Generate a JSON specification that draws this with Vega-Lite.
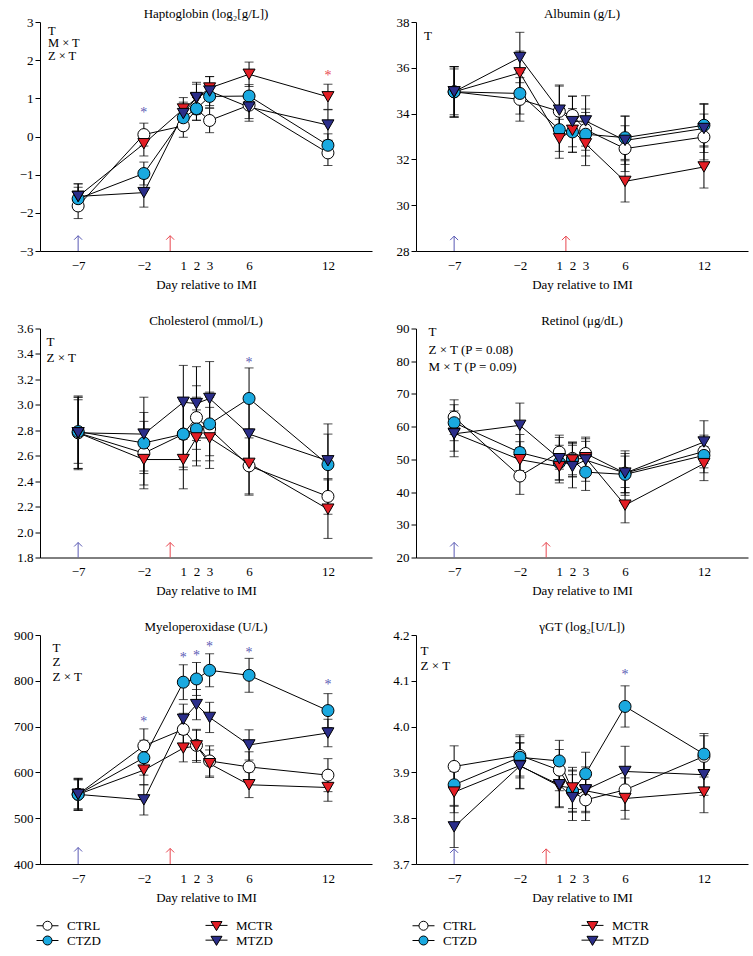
{
  "$schema": "https://vega.github.io/schema/vega-lite/v6.json",
  "padding": {"left": 10, "top": 8, "right": 5, "bottom": 5},
  "background": "white",
  "columns": 2,
  "spacing": {"row": 23.5, "column": 14},
  "resolve": {"scale": {"fill": "independent", "shape": "independent"}},
  "datasets": {
    "series": [
      {"p":"HP","g":"CTRL","d":-7,"m":-1.82,"se":0.33},{"p":"HP","g":"CTRL","d":-2,"m":0.05,"se":0.3},{"p":"HP","g":"CTRL","d":1,"m":0.28,"se":0.3},{"p":"HP","g":"CTRL","d":2,"m":0.72,"se":0.3},{"p":"HP","g":"CTRL","d":3,"m":0.42,"se":0.32},{"p":"HP","g":"CTRL","d":6,"m":0.82,"se":0.35},{"p":"HP","g":"CTRL","d":12,"m":-0.43,"se":0.33},
      {"p":"HP","g":"CTZD","d":-7,"m":-1.63,"se":0.3},{"p":"HP","g":"CTZD","d":-2,"m":-0.97,"se":0.3},{"p":"HP","g":"CTZD","d":1,"m":0.49,"se":0.3},{"p":"HP","g":"CTZD","d":2,"m":0.73,"se":0.3},{"p":"HP","g":"CTZD","d":3,"m":1.05,"se":0.3},{"p":"HP","g":"CTZD","d":6,"m":1.06,"se":0.3},{"p":"HP","g":"CTZD","d":12,"m":-0.23,"se":0.3},
      {"p":"HP","g":"MCTR","d":-7,"m":-1.57,"se":0.33},{"p":"HP","g":"MCTR","d":-2,"m":-0.19,"se":0.32},{"p":"HP","g":"MCTR","d":1,"m":0.72,"se":0.3},{"p":"HP","g":"MCTR","d":2,"m":1.0,"se":0.42},{"p":"HP","g":"MCTR","d":3,"m":1.27,"se":0.3},{"p":"HP","g":"MCTR","d":6,"m":1.63,"se":0.32},{"p":"HP","g":"MCTR","d":12,"m":1.04,"se":0.33},
      {"p":"HP","g":"MTZD","d":-7,"m":-1.57,"se":0.33},{"p":"HP","g":"MTZD","d":-2,"m":-1.47,"se":0.38},{"p":"HP","g":"MTZD","d":1,"m":0.6,"se":0.3},{"p":"HP","g":"MTZD","d":2,"m":1.02,"se":0.35},{"p":"HP","g":"MTZD","d":3,"m":1.19,"se":0.38},{"p":"HP","g":"MTZD","d":6,"m":0.77,"se":0.37},{"p":"HP","g":"MTZD","d":12,"m":0.3,"se":0.4},

      {"p":"AL","g":"CTRL","d":-7,"m":34.95,"se":1.0},{"p":"AL","g":"CTRL","d":-2,"m":34.62,"se":0.95},{"p":"AL","g":"CTRL","d":1,"m":34.1,"se":1.1},{"p":"AL","g":"CTRL","d":2,"m":33.92,"se":0.85},{"p":"AL","g":"CTRL","d":3,"m":33.3,"se":0.9},{"p":"AL","g":"CTRL","d":6,"m":32.47,"se":1.0},{"p":"AL","g":"CTRL","d":12,"m":32.98,"se":1.0},
      {"p":"AL","g":"CTZD","d":-7,"m":34.95,"se":1.1},{"p":"AL","g":"CTZD","d":-2,"m":34.88,"se":0.9},{"p":"AL","g":"CTZD","d":1,"m":33.3,"se":0.95},{"p":"AL","g":"CTZD","d":2,"m":33.2,"se":0.9},{"p":"AL","g":"CTZD","d":3,"m":33.1,"se":0.95},{"p":"AL","g":"CTZD","d":6,"m":32.95,"se":0.95},{"p":"AL","g":"CTZD","d":12,"m":33.49,"se":0.95},
      {"p":"AL","g":"MCTR","d":-7,"m":34.95,"se":1.1},{"p":"AL","g":"MCTR","d":-2,"m":35.78,"se":0.95},{"p":"AL","g":"MCTR","d":1,"m":32.9,"se":0.85},{"p":"AL","g":"MCTR","d":2,"m":33.27,"se":0.95},{"p":"AL","g":"MCTR","d":3,"m":32.68,"se":0.95},{"p":"AL","g":"MCTR","d":6,"m":31.04,"se":0.9},{"p":"AL","g":"MCTR","d":12,"m":31.67,"se":0.92},
      {"p":"AL","g":"MTZD","d":-7,"m":34.95,"se":1.1},{"p":"AL","g":"MTZD","d":-2,"m":36.45,"se":1.1},{"p":"AL","g":"MTZD","d":1,"m":34.15,"se":1.1},{"p":"AL","g":"MTZD","d":2,"m":33.65,"se":1.1},{"p":"AL","g":"MTZD","d":3,"m":33.68,"se":1.1},{"p":"AL","g":"MTZD","d":6,"m":32.83,"se":1.05},{"p":"AL","g":"MTZD","d":12,"m":33.35,"se":1.05},

      {"p":"CH","g":"CTRL","d":-7,"m":2.78,"se":0.28},{"p":"CH","g":"CTRL","d":-2,"m":2.62,"se":0.25},{"p":"CH","g":"CTRL","d":1,"m":2.77,"se":0.28},{"p":"CH","g":"CTRL","d":2,"m":2.9,"se":0.25},{"p":"CH","g":"CTRL","d":3,"m":2.81,"se":0.25},{"p":"CH","g":"CTRL","d":6,"m":2.52,"se":0.22},{"p":"CH","g":"CTRL","d":12,"m":2.28,"se":0.14},
      {"p":"CH","g":"CTZD","d":-7,"m":2.79,"se":0.25},{"p":"CH","g":"CTZD","d":-2,"m":2.7,"se":0.24},{"p":"CH","g":"CTZD","d":1,"m":2.77,"se":0.26},{"p":"CH","g":"CTZD","d":2,"m":2.81,"se":0.25},{"p":"CH","g":"CTZD","d":3,"m":2.85,"se":0.25},{"p":"CH","g":"CTZD","d":6,"m":3.05,"se":0.24},{"p":"CH","g":"CTZD","d":12,"m":2.53,"se":0.24},
      {"p":"CH","g":"MCTR","d":-7,"m":2.78,"se":0.28},{"p":"CH","g":"MCTR","d":-2,"m":2.57,"se":0.23},{"p":"CH","g":"MCTR","d":1,"m":2.57,"se":0.23},{"p":"CH","g":"MCTR","d":2,"m":2.74,"se":0.22},{"p":"CH","g":"MCTR","d":3,"m":2.74,"se":0.24},{"p":"CH","g":"MCTR","d":6,"m":2.54,"se":0.25},{"p":"CH","g":"MCTR","d":12,"m":2.18,"se":0.23},
      {"p":"CH","g":"MTZD","d":-7,"m":2.78,"se":0.29},{"p":"CH","g":"MTZD","d":-2,"m":2.77,"se":0.29},{"p":"CH","g":"MTZD","d":1,"m":3.02,"se":0.29},{"p":"CH","g":"MTZD","d":2,"m":3.01,"se":0.29},{"p":"CH","g":"MTZD","d":3,"m":3.05,"se":0.29},{"p":"CH","g":"MTZD","d":6,"m":2.77,"se":0.25},{"p":"CH","g":"MTZD","d":12,"m":2.56,"se":0.29},

      {"p":"RE","g":"CTRL","d":-7,"m":62.9,"se":5.3},{"p":"RE","g":"CTRL","d":-2,"m":44.9,"se":5.6},{"p":"RE","g":"CTRL","d":1,"m":52.2,"se":5.2},{"p":"RE","g":"CTRL","d":2,"m":50.3,"se":5.0},{"p":"RE","g":"CTRL","d":3,"m":51.8,"se":5.0},{"p":"RE","g":"CTRL","d":6,"m":45.8,"se":6.0},{"p":"RE","g":"CTRL","d":12,"m":52.4,"se":5.0},
      {"p":"RE","g":"CTZD","d":-7,"m":61.2,"se":5.5},{"p":"RE","g":"CTZD","d":-2,"m":52.1,"se":5.5},{"p":"RE","g":"CTZD","d":1,"m":49.0,"se":5.3},{"p":"RE","g":"CTZD","d":2,"m":49.9,"se":5.3},{"p":"RE","g":"CTZD","d":3,"m":46.1,"se":5.6},{"p":"RE","g":"CTZD","d":6,"m":45.4,"se":5.6},{"p":"RE","g":"CTZD","d":12,"m":51.2,"se":5.3},
      {"p":"RE","g":"MCTR","d":-7,"m":58.0,"se":5.5},{"p":"RE","g":"MCTR","d":-2,"m":49.9,"se":5.5},{"p":"RE","g":"MCTR","d":1,"m":47.8,"se":5.0},{"p":"RE","g":"MCTR","d":2,"m":49.8,"se":5.0},{"p":"RE","g":"MCTR","d":3,"m":50.5,"se":5.0},{"p":"RE","g":"MCTR","d":6,"m":36.0,"se":5.4},{"p":"RE","g":"MCTR","d":12,"m":48.7,"se":5.2},
      {"p":"RE","g":"MTZD","d":-7,"m":57.8,"se":7.0},{"p":"RE","g":"MTZD","d":-2,"m":60.4,"se":6.8},{"p":"RE","g":"MTZD","d":1,"m":50.2,"se":6.5},{"p":"RE","g":"MTZD","d":2,"m":47.8,"se":6.5},{"p":"RE","g":"MTZD","d":3,"m":49.8,"se":6.5},{"p":"RE","g":"MTZD","d":6,"m":45.8,"se":6.8},{"p":"RE","g":"MTZD","d":12,"m":55.3,"se":6.5},

      {"p":"MP","g":"CTRL","d":-7,"m":552,"se":35},{"p":"MP","g":"CTRL","d":-2,"m":658,"se":37},{"p":"MP","g":"CTRL","d":1,"m":694,"se":35},{"p":"MP","g":"CTRL","d":2,"m":659,"se":33},{"p":"MP","g":"CTRL","d":3,"m":625,"se":33},{"p":"MP","g":"CTRL","d":6,"m":612,"se":33},{"p":"MP","g":"CTRL","d":12,"m":594,"se":36},
      {"p":"MP","g":"CTZD","d":-7,"m":552,"se":35},{"p":"MP","g":"CTZD","d":-2,"m":632,"se":38},{"p":"MP","g":"CTZD","d":1,"m":797,"se":38},{"p":"MP","g":"CTZD","d":2,"m":804,"se":36},{"p":"MP","g":"CTZD","d":3,"m":823,"se":36},{"p":"MP","g":"CTZD","d":6,"m":812,"se":37},{"p":"MP","g":"CTZD","d":12,"m":735,"se":37},
      {"p":"MP","g":"MCTR","d":-7,"m":552,"se":32},{"p":"MP","g":"MCTR","d":-2,"m":605,"se":32},{"p":"MP","g":"MCTR","d":1,"m":653,"se":30},{"p":"MP","g":"MCTR","d":2,"m":658,"se":36},{"p":"MP","g":"MCTR","d":3,"m":619,"se":30},{"p":"MP","g":"MCTR","d":6,"m":573,"se":28},{"p":"MP","g":"MCTR","d":12,"m":567,"se":30},
      {"p":"MP","g":"MTZD","d":-7,"m":552,"se":32},{"p":"MP","g":"MTZD","d":-2,"m":540,"se":33},{"p":"MP","g":"MTZD","d":1,"m":716,"se":33},{"p":"MP","g":"MTZD","d":2,"m":748,"se":33},{"p":"MP","g":"MTZD","d":3,"m":720,"se":33},{"p":"MP","g":"MTZD","d":6,"m":660,"se":33},{"p":"MP","g":"MTZD","d":12,"m":686,"se":30},

      {"p":"GT","g":"CTRL","d":-7,"m":3.913,"se":0.045},{"p":"GT","g":"CTRL","d":-2,"m":3.937,"se":0.045},{"p":"GT","g":"CTRL","d":1,"m":3.905,"se":0.045},{"p":"GT","g":"CTRL","d":2,"m":3.858,"se":0.045},{"p":"GT","g":"CTRL","d":3,"m":3.84,"se":0.045},{"p":"GT","g":"CTRL","d":6,"m":3.862,"se":0.045},{"p":"GT","g":"CTRL","d":12,"m":3.935,"se":0.045},
      {"p":"GT","g":"CTZD","d":-7,"m":3.873,"se":0.045},{"p":"GT","g":"CTZD","d":-2,"m":3.933,"se":0.045},{"p":"GT","g":"CTZD","d":1,"m":3.925,"se":0.045},{"p":"GT","g":"CTZD","d":2,"m":3.86,"se":0.045},{"p":"GT","g":"CTZD","d":3,"m":3.897,"se":0.047},{"p":"GT","g":"CTZD","d":6,"m":4.044,"se":0.045},{"p":"GT","g":"CTZD","d":12,"m":3.94,"se":0.045},
      {"p":"GT","g":"MCTR","d":-7,"m":3.857,"se":0.045},{"p":"GT","g":"MCTR","d":-2,"m":3.915,"se":0.05},{"p":"GT","g":"MCTR","d":1,"m":3.87,"se":0.045},{"p":"GT","g":"MCTR","d":2,"m":3.866,"se":0.045},{"p":"GT","g":"MCTR","d":3,"m":3.86,"se":0.045},{"p":"GT","g":"MCTR","d":6,"m":3.843,"se":0.045},{"p":"GT","g":"MCTR","d":12,"m":3.857,"se":0.045},
      {"p":"GT","g":"MTZD","d":-7,"m":3.781,"se":0.045},{"p":"GT","g":"MTZD","d":-2,"m":3.914,"se":0.05},{"p":"GT","g":"MTZD","d":1,"m":3.873,"se":0.05},{"p":"GT","g":"MTZD","d":2,"m":3.845,"se":0.05},{"p":"GT","g":"MTZD","d":3,"m":3.862,"se":0.05},{"p":"GT","g":"MTZD","d":6,"m":3.902,"se":0.055},{"p":"GT","g":"MTZD","d":12,"m":3.895,"se":0.045}
    ],
    "notes": [
      {"p":"HP","d":-9.3,"m":2.93,"t":"T\nM × T\nZ × T"},
      {"p":"AL","d":-9.3,"m":37.66,"t":"T"},
      {"p":"CH","d":-9.4,"m":3.54,"t":"T\nZ × T"},
      {"p":"RE","d":-8.95,"m":90.7,"t":"T\nZ × T (P = 0.08)\nM × T (P = 0.09)"},
      {"p":"MP","d":-8.95,"m":884.8,"t":"T\nZ\nZ × T"},
      {"p":"GT","d":-9.55,"m":4.179,"t":"T\nZ × T"}
    ],
    "stars": [
      {"p":"HP","d":-2,"m":0.68,"k":"Z"},{"p":"HP","d":12,"m":1.64,"k":"M"},
      {"p":"CH","d":6,"m":3.35,"k":"Z"},
      {"p":"MP","d":-2,"m":716,"k":"Z"},{"p":"MP","d":1,"m":856,"k":"Z"},{"p":"MP","d":2,"m":860,"k":"Z"},{"p":"MP","d":3,"m":878,"k":"Z"},{"p":"MP","d":6,"m":866,"k":"Z"},{"p":"MP","d":12,"m":795,"k":"Z"},
      {"p":"GT","d":6,"m":4.117,"k":"Z"}
    ],
    "arrows": [
      {"p":"HP","d":-7,"m0":-3,"m":-2.6,"k":"Z"},{"p":"HP","d":0,"m0":-3,"m":-2.6,"k":"M"},
      {"p":"AL","d":-7,"m0":28,"m":28.65,"k":"Z"},{"p":"AL","d":1.5,"m0":28,"m":28.65,"k":"M"},
      {"p":"CH","d":-7,"m0":1.8,"m":1.918,"k":"Z"},{"p":"CH","d":0,"m0":1.8,"m":1.918,"k":"M"},
      {"p":"RE","d":-7,"m0":20,"m":24.6,"k":"Z"},{"p":"RE","d":0,"m0":20,"m":24.6,"k":"M"},
      {"p":"MP","d":-7,"m0":400,"m":436,"k":"Z"},{"p":"MP","d":0,"m0":400,"m":434,"k":"M"},
      {"p":"GT","d":-7,"m0":3.7,"m":3.733,"k":"Z"},{"p":"GT","d":0,"m0":3.7,"m":3.733,"k":"M"}
    ]
  },
  "concat": [
    {
      "title": "Haptoglobin (log₂[g/L])",
      "width": 332, "height": 229,
      "encoding": {
        "x": {"field": "d", "type": "quantitative", "scale": {"domain": [-9.9, 15.35], "nice": false, "zero": false}, "axis": {"values": [-7, -2, 1, 2, 3, 6, 12], "title": "Day relative to IMI"}},
        "y": {"field": "m", "type": "quantitative", "scale": {"domain": [-3, 3], "nice": false, "zero": false}, "axis": {"title": null}}
      },
      "layer": [
        {"data": {"name": "series"}, "transform": [{"filter": "datum.p === 'HP'"}],
         "layer": [
           {"mark": {"type": "errorbar", "color": "black", "thickness": 1, "ticks": {"size": 9, "color": "black", "thickness": 1}}, "encoding": {"yError": {"field": "se"}}},
           {"mark": {"type": "line", "color": "black", "strokeWidth": 1}, "encoding": {"detail": {"field": "g"}}},
           {"transform": [{"filter": "datum.g === 'CTRL' || datum.g === 'CTZD'"}],
            "mark": {"type": "point", "shape": "circle", "filled": true, "size": 144, "stroke": "black", "strokeWidth": 1, "opacity": 1},
            "encoding": {"fill": {"field": "g", "type": "nominal", "scale": {"domain": ["CTRL", "MCTR", "CTZD", "MTZD"], "range": ["white", "#e31e25", "#1aa9e0", "#2b2e8a"]}, "legend": null}}},
           {"transform": [{"filter": "datum.g === 'MCTR' || datum.g === 'MTZD'"}],
            "mark": {"type": "point", "shape": "triangle-down", "filled": true, "size": 144, "stroke": "black", "strokeWidth": 1, "opacity": 1},
            "encoding": {"fill": {"field": "g", "type": "nominal", "scale": {"domain": ["CTRL", "MCTR", "CTZD", "MTZD"], "range": ["white", "#e31e25", "#1aa9e0", "#2b2e8a"]}, "legend": null}}}
         ]},
        {"data": {"name": "notes"}, "transform": [{"filter": "datum.p === 'HP'"}],
         "mark": {"type": "text", "align": "left", "baseline": "top", "lineBreak": "\n", "fontSize": 12.5, "lineHeight": 12.5, "color": "black"},
         "encoding": {"text": {"field": "t"}}},
        {"data": {"name": "stars"}, "transform": [{"filter": "datum.p === 'HP'"}],
         "mark": {"type": "text", "baseline": "middle", "fontSize": 14, "dy": 2.4, "text": "*"},
         "encoding": {"color": {"field": "k", "type": "nominal", "scale": {"domain": ["Z", "M"], "range": ["#5a5ab4", "#e8474f"]}, "legend": null}}},
        {"data": {"name": "arrows"}, "transform": [{"filter": "datum.p === 'HP'"}],
         "mark": {"type": "rule", "strokeWidth": 1},
         "encoding": {"y2": {"field": "m0"}, "color": {"field": "k", "type": "nominal", "scale": {"domain": ["Z", "M"], "range": ["#5a5ab4", "#e8474f"]}, "legend": null}}},
        {"data": {"name": "arrows"}, "transform": [{"filter": "datum.p === 'HP'"}],
         "mark": {"type": "point", "shape": "M-1,1L0,0L1,1", "size": 64, "filled": false, "strokeWidth": 1, "opacity": 1},
         "encoding": {"color": {"field": "k", "type": "nominal", "scale": {"domain": ["Z", "M"], "range": ["#5a5ab4", "#e8474f"]}, "legend": null}}}
      ]
    },
    {
      "title": "Albumin (g/L)",
      "width": 332, "height": 229,
      "encoding": {
        "x": {"field": "d", "type": "quantitative", "scale": {"domain": [-9.9, 15.35], "nice": false, "zero": false}, "axis": {"values": [-7, -2, 1, 2, 3, 6, 12], "title": "Day relative to IMI"}},
        "y": {"field": "m", "type": "quantitative", "scale": {"domain": [28, 38], "nice": false, "zero": false}, "axis": {"title": null}}
      },
      "layer": [
        {"data": {"name": "series"}, "transform": [{"filter": "datum.p === 'AL'"}],
         "layer": [
           {"mark": {"type": "errorbar", "color": "black", "thickness": 1, "ticks": {"size": 9, "color": "black", "thickness": 1}}, "encoding": {"yError": {"field": "se"}}},
           {"mark": {"type": "line", "color": "black", "strokeWidth": 1}, "encoding": {"detail": {"field": "g"}}},
           {"transform": [{"filter": "datum.g === 'CTRL' || datum.g === 'CTZD'"}],
            "mark": {"type": "point", "shape": "circle", "filled": true, "size": 144, "stroke": "black", "strokeWidth": 1, "opacity": 1},
            "encoding": {"fill": {"field": "g", "type": "nominal", "scale": {"domain": ["CTRL", "MCTR", "CTZD", "MTZD"], "range": ["white", "#e31e25", "#1aa9e0", "#2b2e8a"]}, "legend": null}}},
           {"transform": [{"filter": "datum.g === 'MCTR' || datum.g === 'MTZD'"}],
            "mark": {"type": "point", "shape": "triangle-down", "filled": true, "size": 144, "stroke": "black", "strokeWidth": 1, "opacity": 1},
            "encoding": {"fill": {"field": "g", "type": "nominal", "scale": {"domain": ["CTRL", "MCTR", "CTZD", "MTZD"], "range": ["white", "#e31e25", "#1aa9e0", "#2b2e8a"]}, "legend": null}}}
         ]},
        {"data": {"name": "notes"}, "transform": [{"filter": "datum.p === 'AL'"}],
         "mark": {"type": "text", "align": "left", "baseline": "top", "lineBreak": "\n", "fontSize": 13, "lineHeight": 15, "color": "black"},
         "encoding": {"text": {"field": "t"}}},
        {"data": {"name": "arrows"}, "transform": [{"filter": "datum.p === 'AL'"}],
         "mark": {"type": "rule", "strokeWidth": 1},
         "encoding": {"y2": {"field": "m0"}, "color": {"field": "k", "type": "nominal", "scale": {"domain": ["Z", "M"], "range": ["#5a5ab4", "#e8474f"]}, "legend": null}}},
        {"data": {"name": "arrows"}, "transform": [{"filter": "datum.p === 'AL'"}],
         "mark": {"type": "point", "shape": "M-1,1L0,0L1,1", "size": 64, "filled": false, "strokeWidth": 1, "opacity": 1},
         "encoding": {"color": {"field": "k", "type": "nominal", "scale": {"domain": ["Z", "M"], "range": ["#5a5ab4", "#e8474f"]}, "legend": null}}}
      ]
    },
    {
      "title": "Cholesterol (mmol/L)",
      "width": 332, "height": 229,
      "encoding": {
        "x": {"field": "d", "type": "quantitative", "scale": {"domain": [-9.9, 15.35], "nice": false, "zero": false}, "axis": {"values": [-7, -2, 1, 2, 3, 6, 12], "title": "Day relative to IMI"}},
        "y": {"field": "m", "type": "quantitative", "scale": {"domain": [1.8, 3.6], "nice": false, "zero": false}, "axis": {"title": null, "format": ".1f"}}
      },
      "layer": [
        {"data": {"name": "series"}, "transform": [{"filter": "datum.p === 'CH'"}],
         "layer": [
           {"mark": {"type": "errorbar", "color": "black", "thickness": 1, "ticks": {"size": 9, "color": "black", "thickness": 1}}, "encoding": {"yError": {"field": "se"}}},
           {"mark": {"type": "line", "color": "black", "strokeWidth": 1}, "encoding": {"detail": {"field": "g"}}},
           {"transform": [{"filter": "datum.g === 'CTRL' || datum.g === 'CTZD'"}],
            "mark": {"type": "point", "shape": "circle", "filled": true, "size": 144, "stroke": "black", "strokeWidth": 1, "opacity": 1},
            "encoding": {"fill": {"field": "g", "type": "nominal", "scale": {"domain": ["CTRL", "MCTR", "CTZD", "MTZD"], "range": ["white", "#e31e25", "#1aa9e0", "#2b2e8a"]}, "legend": null}}},
           {"transform": [{"filter": "datum.g === 'MCTR' || datum.g === 'MTZD'"}],
            "mark": {"type": "point", "shape": "triangle-down", "filled": true, "size": 144, "stroke": "black", "strokeWidth": 1, "opacity": 1},
            "encoding": {"fill": {"field": "g", "type": "nominal", "scale": {"domain": ["CTRL", "MCTR", "CTZD", "MTZD"], "range": ["white", "#e31e25", "#1aa9e0", "#2b2e8a"]}, "legend": null}}}
         ]},
        {"data": {"name": "notes"}, "transform": [{"filter": "datum.p === 'CH'"}],
         "mark": {"type": "text", "align": "left", "baseline": "top", "lineBreak": "\n", "fontSize": 13, "lineHeight": 15.6, "color": "black"},
         "encoding": {"text": {"field": "t"}}},
        {"data": {"name": "stars"}, "transform": [{"filter": "datum.p === 'CH'"}],
         "mark": {"type": "text", "baseline": "middle", "fontSize": 14, "dy": 2.4, "text": "*"},
         "encoding": {"color": {"field": "k", "type": "nominal", "scale": {"domain": ["Z", "M"], "range": ["#5a5ab4", "#e8474f"]}, "legend": null}}},
        {"data": {"name": "arrows"}, "transform": [{"filter": "datum.p === 'CH'"}],
         "mark": {"type": "rule", "strokeWidth": 1},
         "encoding": {"y2": {"field": "m0"}, "color": {"field": "k", "type": "nominal", "scale": {"domain": ["Z", "M"], "range": ["#5a5ab4", "#e8474f"]}, "legend": null}}},
        {"data": {"name": "arrows"}, "transform": [{"filter": "datum.p === 'CH'"}],
         "mark": {"type": "point", "shape": "M-1,1L0,0L1,1", "size": 64, "filled": false, "strokeWidth": 1, "opacity": 1},
         "encoding": {"color": {"field": "k", "type": "nominal", "scale": {"domain": ["Z", "M"], "range": ["#5a5ab4", "#e8474f"]}, "legend": null}}}
      ]
    },
    {
      "title": "Retinol (μg/dL)",
      "width": 332, "height": 229,
      "encoding": {
        "x": {"field": "d", "type": "quantitative", "scale": {"domain": [-9.9, 15.35], "nice": false, "zero": false}, "axis": {"values": [-7, -2, 1, 2, 3, 6, 12], "title": "Day relative to IMI"}},
        "y": {"field": "m", "type": "quantitative", "scale": {"domain": [20, 90], "nice": false, "zero": false}, "axis": {"title": null}}
      },
      "layer": [
        {"data": {"name": "series"}, "transform": [{"filter": "datum.p === 'RE'"}],
         "layer": [
           {"mark": {"type": "errorbar", "color": "black", "thickness": 1, "ticks": {"size": 9, "color": "black", "thickness": 1}}, "encoding": {"yError": {"field": "se"}}},
           {"mark": {"type": "line", "color": "black", "strokeWidth": 1}, "encoding": {"detail": {"field": "g"}}},
           {"transform": [{"filter": "datum.g === 'CTRL' || datum.g === 'CTZD'"}],
            "mark": {"type": "point", "shape": "circle", "filled": true, "size": 144, "stroke": "black", "strokeWidth": 1, "opacity": 1},
            "encoding": {"fill": {"field": "g", "type": "nominal", "scale": {"domain": ["CTRL", "MCTR", "CTZD", "MTZD"], "range": ["white", "#e31e25", "#1aa9e0", "#2b2e8a"]}, "legend": null}}},
           {"transform": [{"filter": "datum.g === 'MCTR' || datum.g === 'MTZD'"}],
            "mark": {"type": "point", "shape": "triangle-down", "filled": true, "size": 144, "stroke": "black", "strokeWidth": 1, "opacity": 1},
            "encoding": {"fill": {"field": "g", "type": "nominal", "scale": {"domain": ["CTRL", "MCTR", "CTZD", "MTZD"], "range": ["white", "#e31e25", "#1aa9e0", "#2b2e8a"]}, "legend": null}}}
         ]},
        {"data": {"name": "notes"}, "transform": [{"filter": "datum.p === 'RE'"}],
         "mark": {"type": "text", "align": "left", "baseline": "top", "lineBreak": "\n", "fontSize": 13, "lineHeight": 17.5, "color": "black"},
         "encoding": {"text": {"field": "t"}}},
        {"data": {"name": "arrows"}, "transform": [{"filter": "datum.p === 'RE'"}],
         "mark": {"type": "rule", "strokeWidth": 1},
         "encoding": {"y2": {"field": "m0"}, "color": {"field": "k", "type": "nominal", "scale": {"domain": ["Z", "M"], "range": ["#5a5ab4", "#e8474f"]}, "legend": null}}},
        {"data": {"name": "arrows"}, "transform": [{"filter": "datum.p === 'RE'"}],
         "mark": {"type": "point", "shape": "M-1,1L0,0L1,1", "size": 64, "filled": false, "strokeWidth": 1, "opacity": 1},
         "encoding": {"color": {"field": "k", "type": "nominal", "scale": {"domain": ["Z", "M"], "range": ["#5a5ab4", "#e8474f"]}, "legend": null}}}
      ]
    },
    {
      "title": "Myeloperoxidase (U/L)",
      "width": 332, "height": 229,
      "encoding": {
        "x": {"field": "d", "type": "quantitative", "scale": {"domain": [-9.9, 15.35], "nice": false, "zero": false}, "axis": {"values": [-7, -2, 1, 2, 3, 6, 12], "title": "Day relative to IMI"}},
        "y": {"field": "m", "type": "quantitative", "scale": {"domain": [400, 900], "nice": false, "zero": false}, "axis": {"title": null}}
      },
      "layer": [
        {"data": {"name": "series"}, "transform": [{"filter": "datum.p === 'MP'"}],
         "layer": [
           {"mark": {"type": "errorbar", "color": "black", "thickness": 1, "ticks": {"size": 9, "color": "black", "thickness": 1}}, "encoding": {"yError": {"field": "se"}}},
           {"mark": {"type": "line", "color": "black", "strokeWidth": 1}, "encoding": {"detail": {"field": "g"}}},
           {"transform": [{"filter": "datum.g === 'CTRL' || datum.g === 'CTZD'"}],
            "mark": {"type": "point", "shape": "circle", "filled": true, "size": 144, "stroke": "black", "strokeWidth": 1, "opacity": 1},
            "encoding": {"fill": {"field": "g", "type": "nominal", "scale": {"domain": ["CTRL", "MCTR", "CTZD", "MTZD"], "range": ["white", "#e31e25", "#1aa9e0", "#2b2e8a"]}}}},
           {"transform": [{"filter": "datum.g === 'MCTR' || datum.g === 'MTZD'"}],
            "mark": {"type": "point", "shape": "triangle-down", "filled": true, "size": 144, "stroke": "black", "strokeWidth": 1, "opacity": 1},
            "encoding": {"fill": {"field": "g", "type": "nominal", "scale": {"domain": ["CTRL", "MCTR", "CTZD", "MTZD"], "range": ["white", "#e31e25", "#1aa9e0", "#2b2e8a"]}}}},
           {"transform": [{"filter": "datum.g === 'none'"}],
            "mark": {"type": "point", "filled": true, "size": 196, "stroke": "black", "strokeWidth": 1, "opacity": 1},
            "encoding": {
              "fill": {"field": "g", "type": "nominal", "scale": {"domain": ["CTRL", "MCTR", "CTZD", "MTZD"], "range": ["white", "#e31e25", "#1aa9e0", "#2b2e8a"]},
                       "legend": {"title": null, "orient": "bottom", "direction": "horizontal", "columns": 2, "columnPadding": 102, "rowPadding": 0, "offset": 14, "symbolSize": 196, "labelOffset": 12, "labelFont": "Liberation Serif", "labelFontSize": 13, "labelColor": "black", "symbolStrokeColor": "black", "symbolStrokeWidth": 1}},
              "shape": {"field": "g", "type": "nominal", "scale": {"domain": ["CTRL", "MCTR", "CTZD", "MTZD"], "range": ["M-1.57,0L-0.643,0M0.643,0L1.57,0M-0.643,0A0.643,0.643,0,1,1,0.643,0A0.643,0.643,0,1,1,-0.643,0Z", "M-1.57,-0.05L-0.453,-0.05M0.453,-0.05L1.57,-0.05M-0.786,-0.6L0.786,-0.6L0,0.7Z", "M-1.57,0L-0.643,0M0.643,0L1.57,0M-0.643,0A0.643,0.643,0,1,1,0.643,0A0.643,0.643,0,1,1,-0.643,0Z", "M-1.57,-0.05L-0.453,-0.05M0.453,-0.05L1.57,-0.05M-0.786,-0.6L0.786,-0.6L0,0.7Z"]},
                       "legend": {"title": null, "orient": "bottom", "direction": "horizontal", "columns": 2, "columnPadding": 102, "rowPadding": 0, "offset": 14, "symbolSize": 196, "labelOffset": 12, "labelFont": "Liberation Serif", "labelFontSize": 13, "labelColor": "black", "symbolStrokeColor": "black", "symbolStrokeWidth": 1}}}}
         ]},
        {"data": {"name": "notes"}, "transform": [{"filter": "datum.p === 'MP'"}],
         "mark": {"type": "text", "align": "left", "baseline": "top", "lineBreak": "\n", "fontSize": 13, "lineHeight": 14.5, "color": "black"},
         "encoding": {"text": {"field": "t"}}},
        {"data": {"name": "stars"}, "transform": [{"filter": "datum.p === 'MP'"}],
         "mark": {"type": "text", "baseline": "middle", "fontSize": 14, "dy": 2.4, "text": "*"},
         "encoding": {"color": {"field": "k", "type": "nominal", "scale": {"domain": ["Z", "M"], "range": ["#5a5ab4", "#e8474f"]}, "legend": null}}},
        {"data": {"name": "arrows"}, "transform": [{"filter": "datum.p === 'MP'"}],
         "mark": {"type": "rule", "strokeWidth": 1},
         "encoding": {"y2": {"field": "m0"}, "color": {"field": "k", "type": "nominal", "scale": {"domain": ["Z", "M"], "range": ["#5a5ab4", "#e8474f"]}, "legend": null}}},
        {"data": {"name": "arrows"}, "transform": [{"filter": "datum.p === 'MP'"}],
         "mark": {"type": "point", "shape": "M-1,1L0,0L1,1", "size": 64, "filled": false, "strokeWidth": 1, "opacity": 1},
         "encoding": {"color": {"field": "k", "type": "nominal", "scale": {"domain": ["Z", "M"], "range": ["#5a5ab4", "#e8474f"]}, "legend": null}}}
      ]
    },
    {
      "title": "γGT (log₂[U/L])",
      "width": 332, "height": 229,
      "encoding": {
        "x": {"field": "d", "type": "quantitative", "scale": {"domain": [-9.9, 15.35], "nice": false, "zero": false}, "axis": {"values": [-7, -2, 1, 2, 3, 6, 12], "title": "Day relative to IMI"}},
        "y": {"field": "m", "type": "quantitative", "scale": {"domain": [3.7, 4.2], "nice": false, "zero": false}, "axis": {"title": null, "format": ".1f"}}
      },
      "layer": [
        {"data": {"name": "series"}, "transform": [{"filter": "datum.p === 'GT'"}],
         "layer": [
           {"mark": {"type": "errorbar", "color": "black", "thickness": 1, "ticks": {"size": 9, "color": "black", "thickness": 1}}, "encoding": {"yError": {"field": "se"}}},
           {"mark": {"type": "line", "color": "black", "strokeWidth": 1}, "encoding": {"detail": {"field": "g"}}},
           {"transform": [{"filter": "datum.g === 'CTRL' || datum.g === 'CTZD'"}],
            "mark": {"type": "point", "shape": "circle", "filled": true, "size": 144, "stroke": "black", "strokeWidth": 1, "opacity": 1},
            "encoding": {"fill": {"field": "g", "type": "nominal", "scale": {"domain": ["CTRL", "MCTR", "CTZD", "MTZD"], "range": ["white", "#e31e25", "#1aa9e0", "#2b2e8a"]}}}},
           {"transform": [{"filter": "datum.g === 'MCTR' || datum.g === 'MTZD'"}],
            "mark": {"type": "point", "shape": "triangle-down", "filled": true, "size": 144, "stroke": "black", "strokeWidth": 1, "opacity": 1},
            "encoding": {"fill": {"field": "g", "type": "nominal", "scale": {"domain": ["CTRL", "MCTR", "CTZD", "MTZD"], "range": ["white", "#e31e25", "#1aa9e0", "#2b2e8a"]}}}},
           {"transform": [{"filter": "datum.g === 'none'"}],
            "mark": {"type": "point", "filled": true, "size": 196, "stroke": "black", "strokeWidth": 1, "opacity": 1},
            "encoding": {
              "fill": {"field": "g", "type": "nominal", "scale": {"domain": ["CTRL", "MCTR", "CTZD", "MTZD"], "range": ["white", "#e31e25", "#1aa9e0", "#2b2e8a"]},
                       "legend": {"title": null, "orient": "bottom", "direction": "horizontal", "columns": 2, "columnPadding": 102, "rowPadding": 0, "offset": 14, "symbolSize": 196, "labelOffset": 12, "labelFont": "Liberation Serif", "labelFontSize": 13, "labelColor": "black", "symbolStrokeColor": "black", "symbolStrokeWidth": 1}},
              "shape": {"field": "g", "type": "nominal", "scale": {"domain": ["CTRL", "MCTR", "CTZD", "MTZD"], "range": ["M-1.57,0L-0.643,0M0.643,0L1.57,0M-0.643,0A0.643,0.643,0,1,1,0.643,0A0.643,0.643,0,1,1,-0.643,0Z", "M-1.57,-0.05L-0.453,-0.05M0.453,-0.05L1.57,-0.05M-0.786,-0.6L0.786,-0.6L0,0.7Z", "M-1.57,0L-0.643,0M0.643,0L1.57,0M-0.643,0A0.643,0.643,0,1,1,0.643,0A0.643,0.643,0,1,1,-0.643,0Z", "M-1.57,-0.05L-0.453,-0.05M0.453,-0.05L1.57,-0.05M-0.786,-0.6L0.786,-0.6L0,0.7Z"]},
                       "legend": {"title": null, "orient": "bottom", "direction": "horizontal", "columns": 2, "columnPadding": 102, "rowPadding": 0, "offset": 14, "symbolSize": 196, "labelOffset": 12, "labelFont": "Liberation Serif", "labelFontSize": 13, "labelColor": "black", "symbolStrokeColor": "black", "symbolStrokeWidth": 1}}}}
         ]},
        {"data": {"name": "notes"}, "transform": [{"filter": "datum.p === 'GT'"}],
         "mark": {"type": "text", "align": "left", "baseline": "top", "lineBreak": "\n", "fontSize": 13, "lineHeight": 15, "color": "black"},
         "encoding": {"text": {"field": "t"}}},
        {"data": {"name": "stars"}, "transform": [{"filter": "datum.p === 'GT'"}],
         "mark": {"type": "text", "baseline": "middle", "fontSize": 14, "dy": 2.4, "text": "*"},
         "encoding": {"color": {"field": "k", "type": "nominal", "scale": {"domain": ["Z", "M"], "range": ["#5a5ab4", "#e8474f"]}, "legend": null}}},
        {"data": {"name": "arrows"}, "transform": [{"filter": "datum.p === 'GT'"}],
         "mark": {"type": "rule", "strokeWidth": 1},
         "encoding": {"y2": {"field": "m0"}, "color": {"field": "k", "type": "nominal", "scale": {"domain": ["Z", "M"], "range": ["#5a5ab4", "#e8474f"]}, "legend": null}}},
        {"data": {"name": "arrows"}, "transform": [{"filter": "datum.p === 'GT'"}],
         "mark": {"type": "point", "shape": "M-1,1L0,0L1,1", "size": 64, "filled": false, "strokeWidth": 1, "opacity": 1},
         "encoding": {"color": {"field": "k", "type": "nominal", "scale": {"domain": ["Z", "M"], "range": ["#5a5ab4", "#e8474f"]}, "legend": null}}}
      ]
    }
  ],
  "config": {
    "font": "Liberation Serif",
    "view": {"stroke": null},
    "title": {"font": "Liberation Serif", "fontSize": 13, "fontWeight": "normal", "color": "black", "frame": "group", "anchor": "middle", "offset": -5},
    "axis": {"grid": false, "domainColor": "black", "tickColor": "black", "labelFont": "Liberation Serif", "titleFont": "Liberation Serif", "labelFontSize": 13, "titleFontSize": 13, "labelColor": "black", "titleColor": "black", "titleFontWeight": "normal", "labelFlush": false, "labelOverlap": false},
    "axisX": {"ticks": false, "tickSize": 0, "labelPadding": 8, "titlePadding": 6},
    "axisY": {"tickSize": 5, "labelPadding": 2, "minExtent": 30},
    "text": {"font": "Liberation Serif"}
  }
}
